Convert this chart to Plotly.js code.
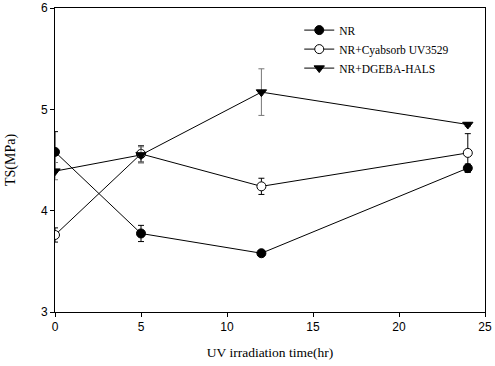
<!DOCTYPE html>
<html>
<head>
<meta charset="utf-8">
<script src="https://cdn.plot.ly/plotly-3.0.1.min.js"></script>
<style>
  html, body { margin: 0; padding: 0; background: #fff; }
  #chart { width: 495px; height: 366px; }
</style>
</head>
<body>
<div id="chart"></div>
<script>
// UV irradiation time (hr)
const hours = [0, 5, 12, 24];

// Tensile strength TS (MPa) for each formulation
const tsNR = [4.58, 3.775, 3.58, 4.42];
const tsCyabsorb = [3.76, 4.56, 4.24, 4.57];
const tsDgeba = [4.39, 4.55, 5.17, 4.85];

// Standard deviations
const errNR = [0.2, 0.08, 0.02, 0.04];
const errCyabsorb = [0.07, 0.08, 0.08, 0.19];
const errDgeba = [0.085, 0.08, 0.23, 0.02];

// Series names
const seriesNames = ['NR', 'NR+Cyabsorb UV3529', 'NR+DGEBA-HALS'];

const serif = 'Liberation Serif, Times New Roman, serif';
const sans = 'Liberation Sans, Arial, sans-serif';

function series(name, y, err, symbol, fill, errColor) {
  return {
    x: hours, y: y, name: name, type: 'scatter', mode: 'lines+markers',
    line: { color: '#000', width: 1 },
    marker: { symbol: symbol, size: 9, color: fill, line: { color: '#000', width: 1 } },
    error_y: { type: 'data', array: err, visible: true, color: errColor, thickness: 1, width: 3 }
  };
}

const data = [
  series(seriesNames[0], tsNR, errNR, 'circle', '#000', '#000'),
  series(seriesNames[1], tsCyabsorb, errCyabsorb, 'circle', '#fff', '#000'),
  series(seriesNames[2], tsDgeba, errDgeba, 'triangle-down', '#000', '#777')
];

const layout = {
  width: 495, height: 366,
  margin: { l: 55, r: 10, t: 8, b: 54 },
  paper_bgcolor: '#fff', plot_bgcolor: '#fff',
  showlegend: true,
  legend: {
    x: 0.568, y: 0.975, xanchor: 'left', yanchor: 'top',
    font: { family: serif, size: 11.5, color: '#000' },
    bgcolor: 'rgba(0,0,0,0)', tracegroupgap: 0, itemwidth: 30
  },
  xaxis: {
    range: [0, 25], tickvals: [0, 5, 10, 15, 20, 25],
    showline: true, linecolor: '#000', linewidth: 1, mirror: true,
    ticks: 'outside', ticklen: 4, tickcolor: '#000',
    showgrid: false, zeroline: false,
    tickfont: { family: sans, size: 12, color: '#000' },
    title: { text: 'UV irradiation time(hr)', font: { family: serif, size: 13.5, color: '#000' }, standoff: 14 }
  },
  yaxis: {
    range: [3, 6], tickvals: [3, 4, 5, 6],
    showline: true, linecolor: '#000', linewidth: 1, mirror: true,
    ticks: 'outside', ticklen: 4, tickcolor: '#000',
    showgrid: false, zeroline: false,
    tickfont: { family: sans, size: 12, color: '#000' },
    title: { text: 'TS(MPa)', font: { family: serif, size: 14, color: '#000' }, standoff: 22 }
  }
};

Plotly.newPlot('chart', data, layout, { staticPlot: true, displayModeBar: false });
</script>
</body>
</html>
